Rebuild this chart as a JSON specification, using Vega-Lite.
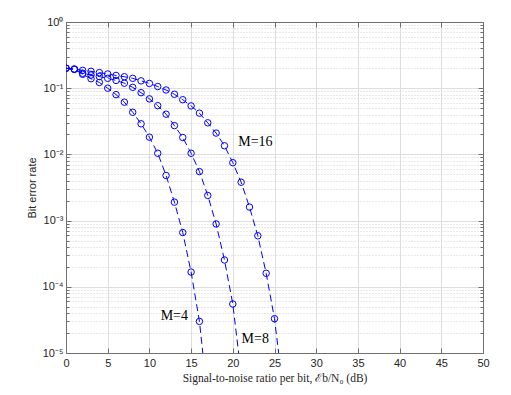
{
  "$schema": "https://vega.github.io/schema/vega-lite/v6.json",
  "width": 417,
  "height": 331,
  "autosize": {"type": "none"},
  "padding": {"left": 66, "top": 22, "right": 28, "bottom": 42},
  "background": "white",
  "config": {
    "view": {"stroke": null},
    "axis": {
      "labelFont": "Liberation Sans",
      "labelFontSize": 11,
      "labelColor": "#262626",
      "titleFont": "Liberation Sans",
      "titleFontSize": 11,
      "titleFontWeight": "normal",
      "titleColor": "#262626",
      "domainColor": "#707070",
      "tickColor": "#707070",
      "labelFlush": false,
      "labelOverlap": false
    }
  },
  "datasets": {
    "ber": [
      {"M": "4", "snr": 0, "ber": 0.200},
      {"M": "4", "snr": 1, "ber": 0.193},
      {"M": "4", "snr": 2, "ber": 0.162},
      {"M": "4", "snr": 3, "ber": 0.139},
      {"M": "4", "snr": 4, "ber": 0.122},
      {"M": "4", "snr": 5, "ber": 0.100},
      {"M": "4", "snr": 6, "ber": 0.080},
      {"M": "4", "snr": 7, "ber": 0.0615},
      {"M": "4", "snr": 8, "ber": 0.0433},
      {"M": "4", "snr": 9, "ber": 0.0290},
      {"M": "4", "snr": 10, "ber": 0.0182},
      {"M": "4", "snr": 11, "ber": 0.0104},
      {"M": "4", "snr": 12, "ber": 0.0048},
      {"M": "4", "snr": 13, "ber": 0.0019},
      {"M": "4", "snr": 14, "ber": 0.00066},
      {"M": "4", "snr": 15, "ber": 0.000167},
      {"M": "4", "snr": 16, "ber": 0.000030},
      {"M": "4", "snr": 17, "ber": 0.000002},
      {"M": "8", "snr": 0, "ber": 0.200},
      {"M": "8", "snr": 1, "ber": 0.193},
      {"M": "8", "snr": 2, "ber": 0.168},
      {"M": "8", "snr": 3, "ber": 0.158},
      {"M": "8", "snr": 4, "ber": 0.150},
      {"M": "8", "snr": 5, "ber": 0.141},
      {"M": "8", "snr": 6, "ber": 0.131},
      {"M": "8", "snr": 7, "ber": 0.119},
      {"M": "8", "snr": 8, "ber": 0.103},
      {"M": "8", "snr": 9, "ber": 0.0855},
      {"M": "8", "snr": 10, "ber": 0.069},
      {"M": "8", "snr": 11, "ber": 0.0545},
      {"M": "8", "snr": 12, "ber": 0.0405},
      {"M": "8", "snr": 13, "ber": 0.0272},
      {"M": "8", "snr": 14, "ber": 0.0180},
      {"M": "8", "snr": 15, "ber": 0.0104},
      {"M": "8", "snr": 16, "ber": 0.0055},
      {"M": "8", "snr": 17, "ber": 0.0024},
      {"M": "8", "snr": 18, "ber": 0.00089},
      {"M": "8", "snr": 19, "ber": 0.000254},
      {"M": "8", "snr": 20, "ber": 0.000055},
      {"M": "8", "snr": 21, "ber": 0.0000048},
      {"M": "16", "snr": 0, "ber": 0.200},
      {"M": "16", "snr": 1, "ber": 0.195},
      {"M": "16", "snr": 2, "ber": 0.186},
      {"M": "16", "snr": 3, "ber": 0.180},
      {"M": "16", "snr": 4, "ber": 0.172},
      {"M": "16", "snr": 5, "ber": 0.164},
      {"M": "16", "snr": 6, "ber": 0.156},
      {"M": "16", "snr": 7, "ber": 0.149},
      {"M": "16", "snr": 8, "ber": 0.141},
      {"M": "16", "snr": 9, "ber": 0.129},
      {"M": "16", "snr": 10, "ber": 0.118},
      {"M": "16", "snr": 11, "ber": 0.106},
      {"M": "16", "snr": 12, "ber": 0.094},
      {"M": "16", "snr": 13, "ber": 0.081},
      {"M": "16", "snr": 14, "ber": 0.067},
      {"M": "16", "snr": 15, "ber": 0.054},
      {"M": "16", "snr": 16, "ber": 0.042},
      {"M": "16", "snr": 17, "ber": 0.030},
      {"M": "16", "snr": 18, "ber": 0.021},
      {"M": "16", "snr": 19, "ber": 0.0135},
      {"M": "16", "snr": 20, "ber": 0.0075},
      {"M": "16", "snr": 21, "ber": 0.0038},
      {"M": "16", "snr": 22, "ber": 0.0016},
      {"M": "16", "snr": 23, "ber": 0.00059},
      {"M": "16", "snr": 24, "ber": 0.00016},
      {"M": "16", "snr": 25, "ber": 0.000033},
      {"M": "16", "snr": 26, "ber": 0.000003}
    ],
    "labels": [
      {"text": "M=16", "snr": 20.65, "ber": 0.0155},
      {"text": "M=4", "snr": 11.35, "ber": 0.000036},
      {"text": "M=8", "snr": 21.05, "ber": 0.0000165}
    ]
  },
  "resolve": {"axis": {"x": "independent", "y": "independent"}},
  "layer": [
    {
      "data": {"name": "ber"},
      "mark": {"type": "line", "clip": true, "color": "#0000ff", "strokeWidth": 1, "strokeDash": [7, 4]},
      "encoding": {
        "x": {
          "field": "snr", "type": "quantitative",
          "scale": {"domain": [0, 50], "nice": false, "zero": false},
          "axis": {
            "orient": "bottom",
            "values": [0, 5, 10, 15, 20, 25, 30, 35, 40, 45, 50],
            "title": "Signal-to-noise ratio per bit, ℰb/N₀ (dB)",
            "titleFont": "Liberation Serif",
            "titleFontSize": 11.5,
            "titlePadding": 4,
            "tickSize": -5,
            "labelPadding": 9,
            "grid": true,
            "gridColor": "#dedede",
            "gridWidth": 1,
            "domain": true
          }
        },
        "y": {
          "field": "ber", "type": "quantitative",
          "scale": {"type": "log", "domain": [0.00001, 1], "nice": false},
          "axis": {
            "orient": "left",
            "values": [0.00001, 0.00002, 0.00003, 0.00004, 0.00005, 0.00006, 0.00007, 0.00008, 0.00009,
                       0.0001, 0.0002, 0.0003, 0.0004, 0.0005, 0.0006, 0.0007, 0.0008, 0.0009,
                       0.001, 0.002, 0.003, 0.004, 0.005, 0.006, 0.007, 0.008, 0.009,
                       0.01, 0.02, 0.03, 0.04, 0.05, 0.06, 0.07, 0.08, 0.09,
                       0.1, 0.2, 0.3, 0.4, 0.5, 0.6, 0.7, 0.8, 0.9, 1],
            "labelExpr": "abs(log(datum.value)/LN10 - round(log(datum.value)/LN10)) < 0.001 ? ('10' + (round(log(datum.value)/LN10) == 0 ? '⁰' : '⁻' + ['⁰','¹','²','³','⁴','⁵'][-round(log(datum.value)/LN10)])) : ''",
            "title": "Bit error rate",
            "titlePadding": 5,
            "ticks": false,
            "labelPadding": 3,
            "grid": true,
            "gridColor": {"condition": {"test": "abs(log(datum.value)/LN10 - round(log(datum.value)/LN10)) < 0.001", "value": "#dedede"}, "value": "#d2d2d2"},
            "gridDash": {"condition": {"test": "abs(log(datum.value)/LN10 - round(log(datum.value)/LN10)) < 0.001", "value": []}, "value": [1, 2]},
            "domain": true
          }
        },
        "detail": {"field": "M", "type": "nominal"}
      }
    },
    {
      "data": {"name": "ber"},
      "mark": {"type": "point", "shape": "circle", "clip": true, "filled": false, "color": "#0000ff", "strokeWidth": 1, "size": 42, "opacity": 1},
      "encoding": {
        "x": {
          "field": "snr", "type": "quantitative",
          "axis": {
            "orient": "top",
            "values": [0, 5, 10, 15, 20, 25, 30, 35, 40, 45, 50],
            "labels": false, "title": null, "grid": false,
            "tickSize": -5, "domain": true
          }
        },
        "y": {
          "field": "ber", "type": "quantitative",
          "axis": {
            "orient": "right",
            "values": [0.00001, 0.00002, 0.00003, 0.00004, 0.00005, 0.00006, 0.00007, 0.00008, 0.00009,
                       0.0001, 0.0002, 0.0003, 0.0004, 0.0005, 0.0006, 0.0007, 0.0008, 0.0009,
                       0.001, 0.002, 0.003, 0.004, 0.005, 0.006, 0.007, 0.008, 0.009,
                       0.01, 0.02, 0.03, 0.04, 0.05, 0.06, 0.07, 0.08, 0.09,
                       0.1, 0.2, 0.3, 0.4, 0.5, 0.6, 0.7, 0.8, 0.9, 1],
            "labels": false, "title": null, "grid": false,
            "tickSize": {"condition": {"test": "abs(log(datum.value)/LN10 - round(log(datum.value)/LN10)) < 0.001", "value": -5}, "value": -3},
            "domain": true
          }
        },
        "detail": {"field": "M", "type": "nominal"}
      }
    },
    {
      "data": {"name": "labels"},
      "mark": {"type": "text", "align": "left", "baseline": "middle", "font": "Liberation Serif", "fontSize": 14, "color": "#000000"},
      "encoding": {
        "x": {"field": "snr", "type": "quantitative", "axis": null},
        "y": {
          "field": "ber", "type": "quantitative",
          "axis": {
            "orient": "left",
            "values": [0.00001, 0.00002, 0.00003, 0.00004, 0.00005, 0.00006, 0.00007, 0.00008, 0.00009,
                       0.0001, 0.0002, 0.0003, 0.0004, 0.0005, 0.0006, 0.0007, 0.0008, 0.0009,
                       0.001, 0.002, 0.003, 0.004, 0.005, 0.006, 0.007, 0.008, 0.009,
                       0.01, 0.02, 0.03, 0.04, 0.05, 0.06, 0.07, 0.08, 0.09,
                       0.1, 0.2, 0.3, 0.4, 0.5, 0.6, 0.7, 0.8, 0.9, 1],
            "labels": false, "title": null, "grid": false, "domain": false,
            "tickSize": {"condition": {"test": "abs(log(datum.value)/LN10 - round(log(datum.value)/LN10)) < 0.001", "value": -5}, "value": -3}
          }
        },
        "text": {"field": "text", "type": "nominal"}
      }
    }
  ]
}
